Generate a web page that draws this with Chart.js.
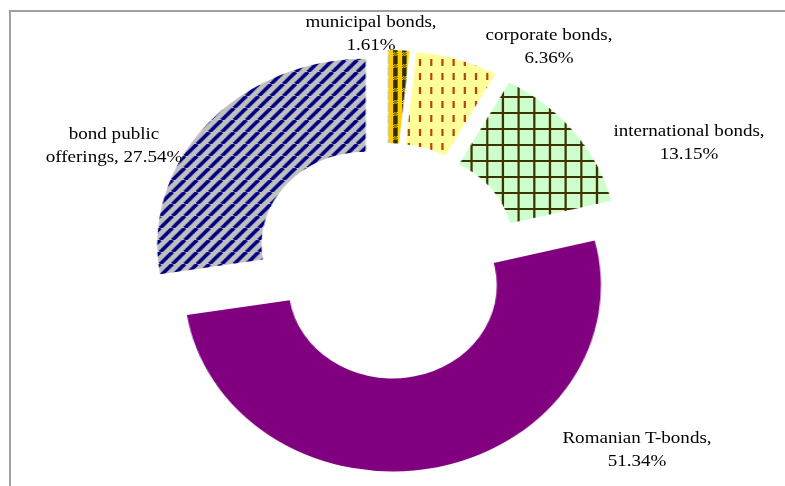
<!DOCTYPE html>
<html>
<head>
<meta charset="utf-8">
<script src="https://cdn.jsdelivr.net/npm/chart.js@4.4.1/dist/chart.umd.min.js"></script>
<style>
  html, body { margin: 0; padding: 0; background: #fff; }
  #wrap { position: relative; width: 785px; height: 486px; overflow: hidden; }
  #frame { position: absolute; left: 9px; top: 10px; right: -10px; bottom: -10px;
           border-left: 2px solid #a0a0a0; border-top: 2px solid #a0a0a0; }
  #stretch { position: absolute; left: 0; top: 0; width: 701px; height: 486px;
             transform: scaleX(1.12); transform-origin: 0 0; }
  .lbl { position: absolute; transform: translate(-50%, -50%) scaleX(1.12); white-space: pre;
         font-family: "Liberation Serif", "Times New Roman", serif; font-size: 17px;
         line-height: 23px; text-align: center; color: #000; }
</style>
</head>
<body>
<div id="wrap">
  <div id="frame"></div>
  <div id="stretch"><canvas id="chart" width="701" height="486"></canvas></div>
</div>
<script>
// data, clockwise from 12 o'clock
const categories = ['municipal bonds', 'corporate bonds', 'international bonds', 'Romanian T-bonds', 'bond public offerings'];
const shares = [1.61, 6.36, 13.15, 51.34, 27.54];

// label centres in page pixels
const labelPos = [[371, 33], [549, 46], [689, 142], [637, 449], [114, 145]];

const EXPLODE = 25;

function makePattern(w, h, paint) {
  const c = document.createElement('canvas');
  c.width = w; c.height = h;
  const g = c.getContext('2d');
  paint(g, w, h);
  return g.createPattern(c, 'repeat');
}

const ctx = document.getElementById('chart').getContext('2d');

// gold / dark weave
const weave = makePattern(8, 12, (g, w, h) => {
  g.fillStyle = '#2e2e00'; g.fillRect(0, 0, w, h);
  g.fillStyle = '#ffcc00'; g.fillRect(3, 0, 4, h);
  for (let y = 0; y < 4; y++)
    for (let x = 0; x < w; x++)
      if ((x + y) % 2 === 0) g.fillRect(x, y + 4, 1, 1);
});
// yellow with short vertical dashes
const dashes = makePattern(10, 14, (g, w, h) => {
  g.fillStyle = '#ffff99'; g.fillRect(0, 0, w, h);
  g.fillStyle = '#b8440e'; g.fillRect(4, 3, 2, 7);
});
// green grid
const grid = makePattern(14, 16, (g, w, h) => {
  g.fillStyle = '#ccffcc'; g.fillRect(0, 0, w, h);
  g.fillStyle = '#3c3300'; g.fillRect(0, 0, 2, h); g.fillRect(0, 0, w, 2);
});
// grey with navy diagonals
const diag = makePattern(11, 12, (g, w, h) => {
  g.fillStyle = '#c0c0c0'; g.fillRect(0, 0, w, h);
  g.strokeStyle = '#000080'; g.lineWidth = 3.5;
  for (let k = -1; k <= 1; k++) {
    g.beginPath(); g.moveTo(k * w, h); g.lineTo(k * w + w, 0); g.stroke();
  }
});

const explode = {
  id: 'explode',
  afterDatasetUpdate(chart, args) {
    chart.getDatasetMeta(args.index).data.forEach(arc => {
      const mid = (arc.startAngle + arc.endAngle) / 2;
      arc.x += Math.cos(mid) * EXPLODE;
      arc.y += Math.sin(mid) * EXPLODE;
    });
  }
};

new Chart(ctx, {
  type: 'doughnut',
  data: {
    labels: categories,
    datasets: [{
      data: shares,
      backgroundColor: [weave, dashes, grid, '#800080', diag],
      borderWidth: 0
    }]
  },
  options: {
    responsive: false,
    animation: false,
    events: [],
    cutout: '50%',
    radius: 186,
    layout: { padding: { top: 36, right: 10, left: 0, bottom: 0 } },
    plugins: { legend: { display: false }, tooltip: { enabled: false } }
  },
  plugins: [explode]
});

// data labels
const wrap = document.getElementById('wrap');
categories.forEach((cat, i) => {
  const words = `${cat}, ${shares[i].toFixed(2)}%`.split(' ');
  const div = document.createElement('div');
  div.className = 'lbl';
  div.textContent = words.slice(0, 2).join(' ') + '\n' + words.slice(2).join(' ');
  div.style.left = labelPos[i][0] + 'px';
  div.style.top = labelPos[i][1] + 'px';
  wrap.appendChild(div);
});
</script>
</body>
</html>
